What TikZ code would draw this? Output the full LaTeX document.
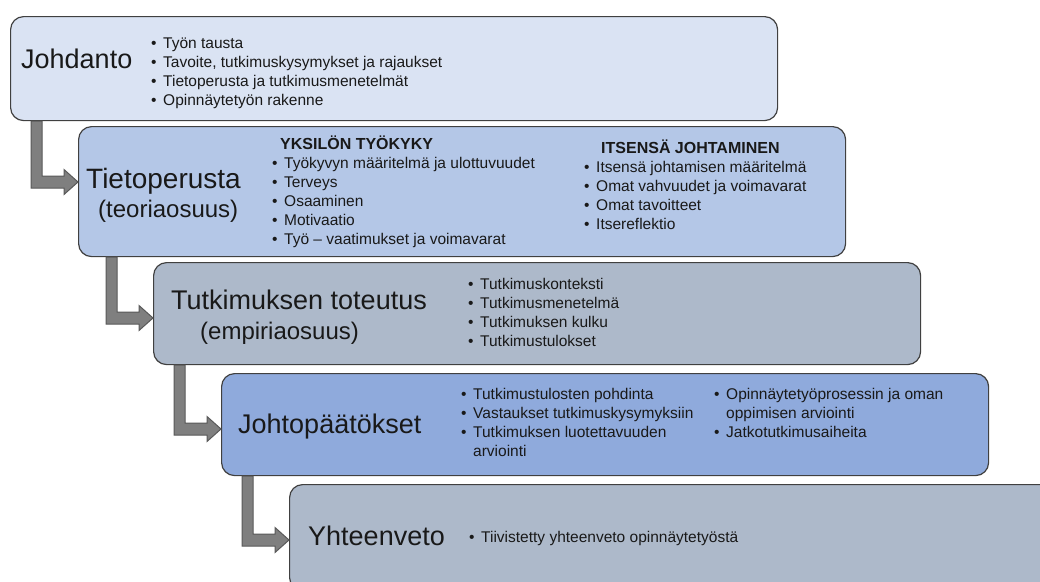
\documentclass[tikz,border=0pt]{standalone}
\usepackage{fontspec}
\setmainfont{Liberation Sans}
\usetikzlibrary{calc}

\definecolor{introfill}{HTML}{DAE3F3}
\definecolor{theoryfill}{HTML}{B4C7E7}
\definecolor{grayfill}{HTML}{ADB9CA}
\definecolor{endfill}{HTML}{8FAADC}
\definecolor{boxline}{HTML}{404040}
\definecolor{arrowfill}{HTML}{7F7F7F}
\definecolor{arrowline}{HTML}{595959}

\tikzset{
	box/.style={draw=boxline, line width=1.2pt, rounded corners=13pt, anchor=north west,
		inner sep=0pt, minimum width=767pt},
	title/.style={anchor=base west, inner sep=0pt, text=black!90, font=\fontsize{27}{30}\selectfont},
	subtitle/.style={title, font=\fontsize{24}{28}\selectfont},
	head/.style={anchor=base west, inner sep=0pt, text=black!90, font=\fontsize{16}{19}\selectfont\bfseries},
	% a list node sits on the baseline of its last line
	list/.style={anchor=base west, inner sep=0pt, align=left, text=black!90, font=\fontsize{15.5}{19}\selectfont},
	bigarrow/.style={fill=arrowfill, draw=arrowline, line width=1pt}
}

\newcommand{\itm}{\makebox[12pt][l]{\textbullet}}
\newcommand{\itmgap}{\hspace*{12pt}}
% thick gray elbow arrow from the box #1 down and into the box #2
\newcommand{\elbow}[2]{%
	\coordinate (#2-in) at ($(#2.north west)+(0,56)$);
	\draw[bigarrow] ($(#2-in |- #1.south)+(-47,0)$) -- ($(#2-in |- #1.south)+(-36,0)$)
		|- ($(#2-in)+(-14,-6)$) -- ($(#2-in)+(-14,-12.5)$) -- (#2-in)
		-- ($(#2-in)+(-14,12.5)$) -- ($(#2-in)+(-14,6)$)
		-| ($(#2-in |- #1.south)+(-47,0)$) -- cycle;}

\begin{document}
\begin{tikzpicture}[x=1pt, y=-1pt]
				\path[use as bounding box, clip] (0,0) rectangle (1040,581);

				% Johdanto
				\node[box, fill=introfill, minimum height=104pt] (johdanto) at (10,16) {};
				\node[title] (johdanto-t) at (21,68) {Johdanto};
				\node[list] (johdanto-l) at (151,105) {\itm Työn tausta\\ \itm Tavoite, tutkimuskysymykset ja rajaukset\\
					\itm Tietoperusta ja tutkimusmenetelmät\\ \itm Opinnäytetyön rakenne};

				% Tietoperusta
				\node[box, fill=theoryfill, minimum height=130pt] (tieto) at (78,126) {};
				\node[title, font=\fontsize{28}{30}\selectfont] (tieto-t) at (86,188) {Tietoperusta};
				\node[subtitle] (tieto-s) at (98,217) {(teoriaosuus)};
				\node[head] (tieto-h1) at (280,149) {YKSILÖN TYÖKYKY};
				\node[list] (tieto-l1) at (272,244) {\itm Työkyvyn määritelmä ja ulottuvuudet\\ \itm Terveys\\
					\itm Osaaminen\\ \itm Motivaatio\\ \itm Työ -- vaatimukset ja voimavarat};
				\node[head] (tieto-h2) at (601,153) {ITSENSÄ JOHTAMINEN};
				\node[list] (tieto-l2) at (584,229) {\itm Itsensä johtamisen määritelmä\\ \itm Omat vahvuudet ja voimavarat\\
					\itm Omat tavoitteet\\ \itm Itsereflektio};

				% Tutkimuksen toteutus
				\node[box, fill=grayfill, minimum height=102pt] (toteutus) at (153,262) {};
				\node[title] (toteutus-t) at (171,309) {Tutkimuksen toteutus};
				\node[subtitle] (toteutus-s) at (200,339) {(empiriaosuus)};
				\node[list] (toteutus-l) at (468,346) {\itm Tutkimuskonteksti\\ \itm Tutkimusmenetelmä\\
					\itm Tutkimuksen kulku\\ \itm Tutkimustulokset};

				% Johtopäätökset
				\node[box, fill=endfill, minimum height=102pt] (johto) at (221,373) {};
				\node[title] (johto-t) at (238,433) {Johtopäätökset};
				\node[list] (johto-l1) at (461,456) {\itm Tutkimustulosten pohdinta\\ \itm Vastaukset tutkimuskysymyksiin\\
					\itm Tutkimuksen luotettavuuden\\ \itmgap arviointi};
				\node[list] (johto-l2) at (714,437) {\itm Opinnäytetyöprosessin ja oman\\ \itmgap oppimisen arviointi\\
					\itm Jatkotutkimusaiheita};

				% Yhteenveto
				\node[box, fill=grayfill, minimum height=106pt] (yhteen) at (289,484) {};
				\node[title] (yhteen-t) at (308,545) {Yhteenveto};
				\node[list] (yhteen-l) at (469,542) {\itm Tiivistetty yhteenveto opinnäytetyöstä};

				% Arrows
				\elbow{johdanto}{tieto}
				\elbow{tieto}{toteutus}
				\elbow{toteutus}{johto}
				\elbow{johto}{yhteen}
			\end{tikzpicture}
\end{document}
